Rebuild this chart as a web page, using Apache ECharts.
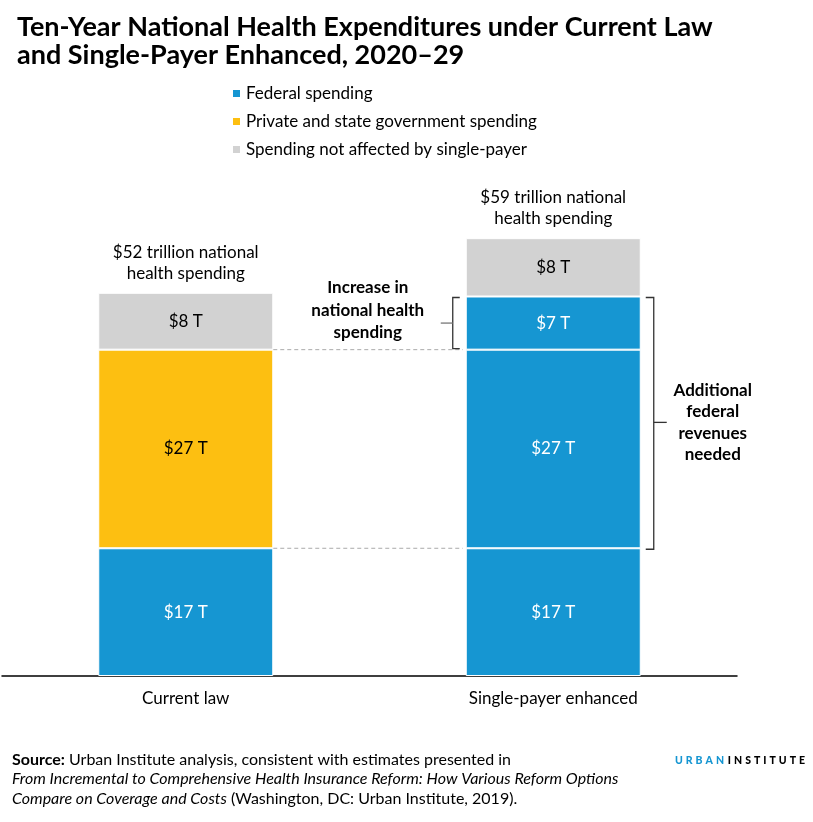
<!DOCTYPE html>
<html>
<head>
<meta charset="utf-8">
<script src="https://cdn.jsdelivr.net/npm/echarts@6/dist/echarts.min.js"></script>
<style>
  html, body { margin: 0; padding: 0; background: #fff; }
  #chart { width: 813px; height: 822px; }
</style>
</head>
<body>
<div id="chart"></div>
<script>
// data, trillions of dollars, 2020-29
const categories = ['Current law', 'Single-payer enhanced'];
const federal = [17.3, 17.3];
const privateState = [26.9, '-'];
const federalReplacing = ['-', 26.9];
const federalIncrease = ['-', 7.2];
const notAffected = [7.7, 7.9];
const totalLabels = ['$52 trillion national\nhealth spending', '$59 trillion national\nhealth spending'];

const BLUE = '#1696d2';
const YELLOW = '#fdbf11';
const GRAY = '#d2d2d2';
const FONT = 'Lato';
const BAR_WIDTH = 175;

const chart = echarts.init(document.getElementById('chart'));

// one stacked bar segment
function segment(name, data, color, textColor) {
  return {
    name: name,
    type: 'bar',
    stack: 'total',
    barWidth: BAR_WIDTH,
    data: data,
    itemStyle: {color: color, borderColor: '#fff', borderWidth: 1},
    label: {
      show: true,
      position: 'inside',
      color: textColor,
      fontFamily: FONT,
      fontSize: 17,
      formatter: (p) => '$' + Math.round(p.value) + ' T'
    },
    emphasis: {disabled: true}
  };
}

chart.setOption({
  animation: false,
  title: {
    text: 'Ten-Year National Health Expenditures under Current Law\nand Single-Payer Enhanced, 2020\u201329',
    left: 12,
    top: 8,
    textStyle: {
      fontFamily: FONT,
      fontWeight: 'bold',
      fontSize: 27,
      lineHeight: 28,
      color: '#000'
    }
  },
  legend: {
    data: ['Federal spending', 'Private and state government spending', 'Spending not affected by single-payer'],
    orient: 'vertical',
    left: 226,
    top: 80,
    icon: 'rect',
    itemWidth: 9,
    itemHeight: 9,
    itemGap: 11,
    selectedMode: false,
    textStyle: {fontFamily: FONT, fontSize: 17, color: '#000'}
  },
  grid: {left: 2, right: 76, top: 233, bottom: 146},
  xAxis: {
    type: 'category',
    data: categories,
    axisLine: {lineStyle: {color: '#000', width: 1.5}},
    axisTick: {show: false},
    axisLabel: {fontFamily: FONT, fontSize: 17, color: '#000', margin: 14}
  },
  yAxis: {type: 'value', min: 0, max: 60, show: false},
  series: [
    segment('Federal spending', federal, BLUE, '#fff'),
    segment('Private and state government spending', privateState, YELLOW, '#000'),
    segment('Federal spending (replacing private)', federalReplacing, BLUE, '#fff'),
    segment('Federal spending (increase)', federalIncrease, BLUE, '#fff'),
    segment('Spending not affected by single-payer', notAffected, GRAY, '#000')
  ]
});

// annotations placed from the data through the axes
const px = (i, v) => chart.convertToPixel({gridIndex: 0}, [i, v]);
const half = BAR_WIDTH / 2;
const num = (v) => (v === '-' ? 0 : v);
const tops = categories.map((c, i) =>
  num(federal[i]) + num(privateState[i]) + num(federalReplacing[i]) + num(federalIncrease[i]) + num(notAffected[i]));
const fedTop = federal[0];
const oldTop = federal[0] + privateState[0];
const newFedTop = oldTop + federalIncrease[1];

const [x0, yFed] = px(0, fedTop);
const [x1, yOld] = px(1, oldTop);
const yNew = px(1, newFedTop)[1];

const lineStyle = {stroke: '#333', lineWidth: 1.3};
const dashStyle = {stroke: '#aaa', lineWidth: 1, lineDash: [4, 3]};
const poly = (points, style) => ({type: 'polyline', shape: {points: points}, style: style, silent: true});

const lbx = x1 - half - 13;          // left bracket
const rbx = x1 + half + 13;          // right bracket
const lMid = (yNew + yOld) / 2;
const rMid = (yNew + yFed) / 2;

// letter-spaced logo text
const spaced = (word, style) => word.split('').map((ch) => '{' + style + '|' + ch + '}').join('');
const logoLetter = {fontFamily: FONT, fontWeight: 900, fontSize: 10.5, padding: [0, 1.5]};

const graphics = [
  poly([[x0 + half, yFed], [lbx + 10, yFed]], dashStyle),
  poly([[x0 + half, yOld], [lbx + 10, yOld]], dashStyle),
  poly([[lbx + 7, yNew + 1], [lbx, yNew + 1], [lbx, yOld - 1], [lbx + 7, yOld - 1]], lineStyle),
  poly([[lbx - 12, lMid], [lbx, lMid]], {stroke: '#777', lineWidth: 1.3}),
  poly([[rbx - 8, yNew + 1], [rbx, yNew + 1], [rbx, yFed + 1], [rbx - 8, yFed + 1]], lineStyle),
  poly([[rbx, rMid], [rbx + 13, rMid]], lineStyle),
  {
    type: 'text', x: lbx - 85, y: lMid - 13, silent: true,
    style: {
      text: 'Increase in\nnational health\nspending', align: 'center', verticalAlign: 'middle',
      fontFamily: FONT, fontWeight: 'bold', fontSize: 17, lineHeight: 22.5, fill: '#000'
    }
  },
  {
    type: 'text', x: rbx + 59, y: rMid, silent: true,
    style: {
      text: 'Additional\nfederal\nrevenues\nneeded', align: 'center', verticalAlign: 'middle',
      fontFamily: FONT, fontWeight: 'bold', fontSize: 17, lineHeight: 21.5, fill: '#000'
    }
  },
  {
    type: 'text', left: 12, top: 750, silent: true,
    style: {
      text: '{b|Source:} Urban Institute analysis, consistent with estimates presented in\n' +
        '{i|From Incremental to Comprehensive Health Insurance Reform: How Various Reform Options}\n' +
        '{i|Compare on Coverage and Costs} (Washington, DC: Urban Institute, 2019).',
      fontFamily: FONT, fontSize: 16, lineHeight: 19.5, fill: '#000',
      rich: {
        b: {fontFamily: FONT, fontSize: 16, fontWeight: 'bold', lineHeight: 19.5},
        i: {fontFamily: FONT, fontSize: 16, fontStyle: 'italic', lineHeight: 19.5}
      }
    }
  },
  {
    type: 'text', right: 8, top: 755, silent: true,
    style: {
      text: spaced('URBAN', 'u') + '{g| }' + spaced('INSTITUTE', 'n'),
      rich: {
        u: Object.assign({fill: BLUE, color: BLUE}, logoLetter),
        n: Object.assign({fill: '#000', color: '#000'}, logoLetter),
        g: {fontSize: 3}
      }
    }
  }
];

categories.forEach((c, i) => {
  const [x, y] = px(i, tops[i]);
  graphics.push({
    type: 'text', x: x, y: y - 9, silent: true,
    style: {
      text: totalLabels[i], align: 'center', verticalAlign: 'bottom',
      fontFamily: FONT, fontSize: 17, lineHeight: 21, fill: '#000'
    }
  });
});

chart.setOption({graphic: graphics});
</script>
</body>
</html>
